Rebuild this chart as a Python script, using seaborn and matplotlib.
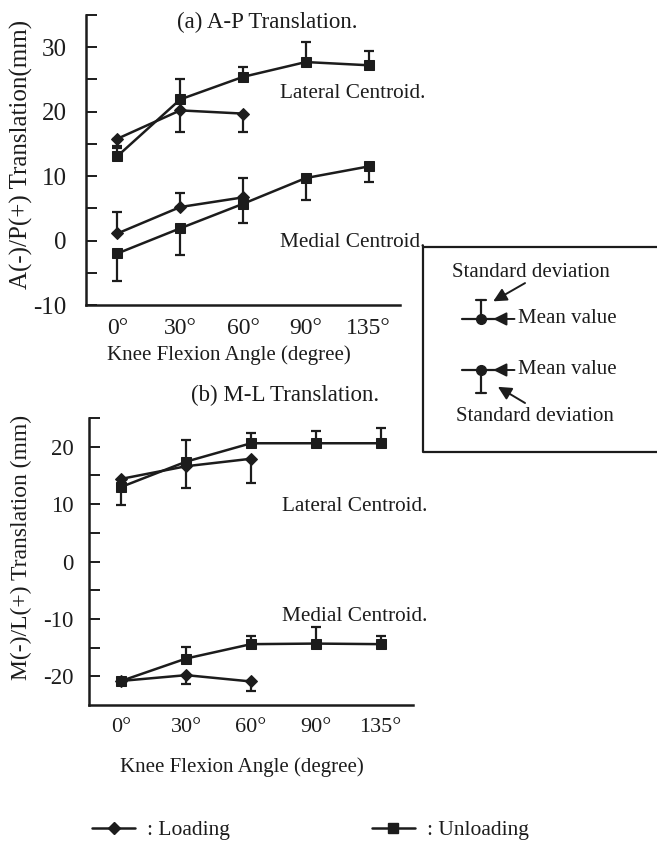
import numpy as np
import pandas as pd
import seaborn as sns
import matplotlib.pyplot as plt
from matplotlib.lines import Line2D

# Углы сгибания колена
angles = ["0°", "30°", "60°", "90°", "135°"]

# (a) A-P, значения; sd со знаком: + вверх, - вниз
ap_lat_load = [15.8, 20.2, 19.7]
ap_lat_load_sd = [-1.2, -3.4, -2.8]
ap_lat_unload = [13.1, 21.9, 25.4, 27.7, 27.2]
ap_lat_unload_sd = [1.2, 3.1, 1.6, 3.1, 2.2]
ap_med_load = [1.1, 5.2, 6.7]
ap_med_load_sd = [3.3, 2.2, 3.0]
ap_med_unload = [-2.0, 1.9, 5.7, 9.7, 11.5]
ap_med_unload_sd = [-4.2, -4.2, -2.9, -3.4, -2.4]

# (b) M-L
ml_lat_load = [14.4, 16.6, 17.9]
ml_lat_load_sd = [0.0, -3.8, -4.3]
ml_lat_unload = [13.0, 17.4, 20.6, 20.6, 20.6]
ml_lat_unload_sd = [-3.1, 3.8, 1.7, 2.1, 2.6]
ml_med_load = [-20.8, -19.8, -20.9]
ml_med_load_sd = [0.0, -1.6, -1.7]
ml_med_unload = [-20.8, -16.9, -14.4, -14.3, -14.4]
ml_med_unload_sd = [0.0, 2.0, 1.5, 2.9, 1.5]

ink = "#1c1c1c"

sns.set_theme(style="ticks")
plt.rcParams["font.family"] = ["Liberation Serif", "DejaVu Serif"]
plt.rcParams["axes.unicode_minus"] = False


def make_df(series):
    rows = []
    for region, cond, vals, sds in series:
        for i, (v, s) in enumerate(zip(vals, sds)):
            rows.append({"pos": i, "value": v, "sd": s,
                         "region": region, "condition": cond})
    return pd.DataFrame(rows)


df_ap = make_df([
    ("Lateral", "Loading", ap_lat_load, ap_lat_load_sd),
    ("Lateral", "Unloading", ap_lat_unload, ap_lat_unload_sd),
    ("Medial", "Loading", ap_med_load, ap_med_load_sd),
    ("Medial", "Unloading", ap_med_unload, ap_med_unload_sd),
])
df_ml = make_df([
    ("Lateral", "Loading", ml_lat_load, ml_lat_load_sd),
    ("Lateral", "Unloading", ml_lat_unload, ml_lat_unload_sd),
    ("Medial", "Loading", ml_med_load, ml_med_load_sd),
    ("Medial", "Unloading", ml_med_unload, ml_med_unload_sd),
])

W, H = 657, 843
fig = plt.figure(figsize=(W / 100, H / 100), dpi=100)
fig.patch.set_facecolor("white")

ax_a = fig.add_axes([86 / W, 1 - 305 / H, 314 / W, 290 / H])
ax_b = fig.add_axes([89 / W, 1 - 705 / H, 324 / W, 287 / H])


def draw_panel(ax, df, ylim, majors, minors, ytick_fs, xtick_fs, ypad):
    # усы (одностороннее стандартное отклонение)
    d = df[df["sd"] != 0]
    lower = np.where(d["sd"] < 0, -d["sd"], 0)
    upper = np.where(d["sd"] > 0, d["sd"], 0)
    ax.errorbar(d["pos"], d["value"], yerr=[lower, upper], fmt="none",
                ecolor=ink, elinewidth=1.6, capsize=3.5, capthick=1.6, zorder=2)
    sns.lineplot(data=df, x="pos", y="value", style="condition",
                 units="region", estimator=None, sort=False,
                 markers={"Loading": "D", "Unloading": "s"}, dashes=False,
                 color=ink, linewidth=1.8, markersize=6.5,
                 markeredgecolor=ink, legend=False, ax=ax, zorder=3)
    ax.set_xlim(-0.5, 4.5)
    ax.set_ylim(*ylim)
    ax.set_xticks(range(len(angles)))
    ax.set_xticklabels(angles, fontsize=xtick_fs)
    ax.set_yticks(majors)
    ax.set_yticks(minors, minor=True)
    ax.tick_params(axis="x", length=0, pad=9, colors=ink)
    ax.tick_params(axis="y", which="both", direction="in", length=8,
                   width=1.4, pad=ypad, labelsize=ytick_fs, colors=ink)
    ax.set_xlabel("")
    ax.set_ylabel("")
    sns.despine(ax=ax)
    for sp in ["left", "bottom"]:
        ax.spines[sp].set_linewidth(1.8)
        ax.spines[sp].set_color(ink)
    ax.set_facecolor("white")


draw_panel(ax_a, df_ap, (-10, 35), [-10, 0, 10, 20, 30], [-5, 5, 15, 25, 35],
           18, 17, 14)
draw_panel(ax_b, df_ml, (-25, 25), [-20, -10, 0, 10, 20],
           [-15, -5, 5, 15, 25], 16.5, 16, 11)

# подписи панели (a)
ax_a.text(0.576, 0.976, "(a) A-P Translation.", transform=ax_a.transAxes,
          ha="center", va="center", fontsize=16.5, color=ink)
ax_a.text(0.618, 0.731, "Lateral Centroid.", transform=ax_a.transAxes,
          ha="left", va="center", fontsize=15.3, color=ink)
ax_a.text(0.618, 0.214, "Medial Centroid.", transform=ax_a.transAxes,
          ha="left", va="center", fontsize=15.3, color=ink)
ax_a.text(0.455, -0.172, "Knee Flexion Angle (degree)", transform=ax_a.transAxes,
          ha="center", va="center", fontsize=15, color=ink)
ax_a.text(-0.204, 0.52, "A(-)/P(+) Translation(mm)", transform=ax_a.transAxes,
          ha="center", va="center", rotation=90, fontsize=18, color=ink)

# подписи панели (b)
ax_b.text(0.605, 1.08, "(b) M-L Translation.", transform=ax_b.transAxes,
          ha="center", va="center", fontsize=16.5, color=ink)
ax_b.text(0.596, 0.693, "Lateral Centroid.", transform=ax_b.transAxes,
          ha="left", va="center", fontsize=15.3, color=ink)
ax_b.text(0.596, 0.307, "Medial Centroid.", transform=ax_b.transAxes,
          ha="left", va="center", fontsize=15.3, color=ink)
ax_b.text(0.472, -0.216, "Knee Flexion Angle (degree)", transform=ax_b.transAxes,
          ha="center", va="center", fontsize=15, color=ink)
ax_b.text(-0.207, 0.55, "M(-)/L(+) Translation (mm)", transform=ax_b.transAxes,
          ha="center", va="center", rotation=90, fontsize=17, color=ink)

# рамка с пояснением (среднее / отклонение)
lg = fig.add_axes([423 / W, 1 - 452 / H, 1 - 423 / W, 205 / H])
lg.set_xlim(0, 1)
lg.set_ylim(0, 1)
lg.axis("off")
lg.plot([1.05, 0, 0, 1.05], [1, 1, 0, 0], color=ink, lw=1.6, clip_on=False)

fs_box = 15
lg.text(0.462, 0.878, "Standard deviation", ha="center", va="center",
        fontsize=fs_box, color=ink)
lg.text(0.479, 0.171, "Standard deviation", ha="center", va="center",
        fontsize=fs_box, color=ink)
for yc, ytip in [(0.649, 0.741), (0.40, 0.288)]:
    lg.plot([0.167, 0.316], [yc, yc], color=ink, lw=1.6)
    lg.plot([0.248, 0.248], [yc, ytip], color=ink, lw=1.6)
    lg.plot([0.225, 0.271], [ytip, ytip], color=ink, lw=1.6)
    lg.plot([0.248], [yc], "o", color=ink, markersize=7)
    lg.annotate("Mean value", xy=(0.30, yc), xytext=(0.405, yc),
                ha="left", va="center", fontsize=fs_box, color=ink,
                arrowprops=dict(arrowstyle="-|>", color=ink, lw=1.4,
                                mutation_scale=20, shrinkA=0, shrinkB=0))
arrow_kw = dict(arrowstyle="-|>", color=ink, lw=1.4, mutation_scale=20,
                shrinkA=0, shrinkB=0)
lg.annotate("", xy=(0.300, 0.735), xytext=(0.436, 0.824), arrowprops=arrow_kw)
lg.annotate("", xy=(0.320, 0.318), xytext=(0.436, 0.239), arrowprops=arrow_kw)

# легенда внизу
handles = [
    Line2D([], [], color=ink, lw=1.8, marker="D", markersize=6.5,
           markeredgecolor=ink),
    Line2D([], [], color=ink, lw=1.8, marker="s", markersize=6.5,
           markeredgecolor=ink),
]
leg = fig.legend(handles, [": Loading", ": Unloading"], ncol=2,
                 loc="center left", bbox_to_anchor=(92 / W, 1 - 830 / H),
                 frameon=False, fontsize=15.5, handlelength=2.0,
                 handletextpad=0.55, columnspacing=6.6, borderpad=0,
                 borderaxespad=0)
for t in leg.get_texts():
    t.set_color(ink)

fig.savefig("out.png", dpi=100, facecolor="white")
